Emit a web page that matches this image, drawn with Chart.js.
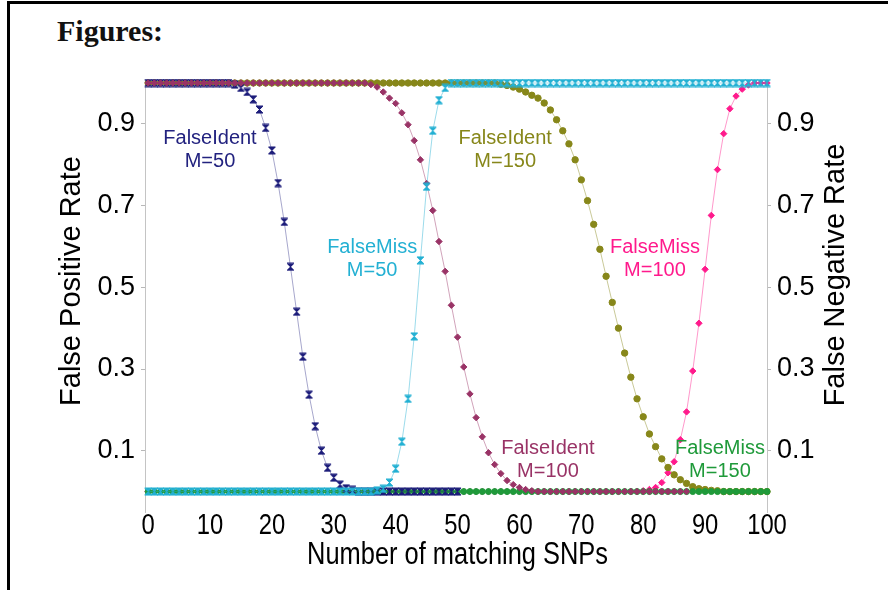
<!DOCTYPE html>
<html>
<head>
<meta charset="utf-8">
<script src="https://cdn.jsdelivr.net/npm/chart.js@4.4.1/dist/chart.umd.min.js"></script>
<style>
  body { margin: 0; background: #fff; }
  #wrap { position: relative; width: 888px; height: 590px; background: #fff; overflow: hidden; }
  #frame { position: absolute; left: 7px; top: 1px; width: 900px; height: 600px; border-left: 3px solid #000; border-top: 3px solid #000; }
  #heading { position: absolute; left: 57px; top: 14px; font: bold 30px "Liberation Serif", "Times New Roman", serif; color: #111; }
  canvas { position: absolute; left: 0; top: 0; }
</style>
</head>
<body>
<div id="wrap">
  <div id="frame"></div>
  <div id="heading">Figures:</div>
  <canvas id="chart" width="888" height="590"></canvas>
</div>
<script>
// x values: number of matching SNPs
const snps = [
  0, 1, 2, 3, 4, 5, 6, 7, 8, 9,
  10, 11, 12, 13, 14, 15, 16, 17, 18, 19,
  20, 21, 22, 23, 24, 25, 26, 27, 28, 29,
  30, 31, 32, 33, 34, 35, 36, 37, 38, 39,
  40, 41, 42, 43, 44, 45, 46, 47, 48, 49,
  50, 51, 52, 53, 54, 55, 56, 57, 58, 59,
  60, 61, 62, 63, 64, 65, 66, 67, 68, 69,
  70, 71, 72, 73, 74, 75, 76, 77, 78, 79,
  80, 81, 82, 83, 84, 85, 86, 87, 88, 89,
  90, 91, 92, 93, 94, 95, 96, 97, 98, 99,
  100
];

// FalseIdent M=50
const falseIdent50 = [
  1, 1, 1, 1, 1, 1, 1, 1, 1, 1,
  1, 1, 1, 1, 0.996, 0.988, 0.978, 0.96, 0.935, 0.89,
  0.835, 0.755, 0.66, 0.55, 0.44, 0.33, 0.237, 0.16, 0.10, 0.058,
  0.034, 0.017, 0.008, 0.004, 0, 0, 0, 0, 0, 0,
  0, 0, 0, 0, 0, 0, 0, 0, 0, 0,
  0, null, null, null, null, null, null, null, null, null,
  null, null, null, null, null, null, null, null, null, null,
  null, null, null, null, null, null, null, null, null, null,
  null, null, null, null, null, null, null, null, null, null,
  null, null, null, null, null, null, null, null, null, null,
  null
];

// FalseMiss M=50
const falseMiss50 = [
  0, 0, 0, 0, 0, 0, 0, 0, 0, 0,
  0, 0, 0, 0, 0, 0, 0, 0, 0, 0,
  0, 0, 0, 0, 0, 0, 0, 0, 0, 0,
  0, 0, 0, 0, 0, 0, 0, 0.003, 0.007, 0.022,
  0.056, 0.122, 0.227, 0.38, 0.566, 0.746, 0.883, 0.958, 0.988, 1,
  1, 1, 1, 1, 1, 1, 1, 1, 1, 1,
  1, 1, 1, 1, 1, 1, 1, 1, 1, 1,
  1, 1, 1, 1, 1, 1, 1, 1, 1, 1,
  1, 1, 1, 1, 1, 1, 1, 1, 1, 1,
  1, 1, 1, 1, 1, 1, 1, 1, 1, 1,
  1
];

// FalseIdent M=100
const falseIdent100 = [
  1, 1, 1, 1, 1, 1, 1, 1, 1, 1,
  1, 1, 1, 1, 1, 1, 1, 1, 1, 1,
  1, 1, 1, 1, 1, 1, 1, 1, 1, 1,
  1, 1, 1, 1, 1, 1, 0.996, 0.99, 0.978, 0.963,
  0.95, 0.927, 0.898, 0.859, 0.812, 0.754, 0.688, 0.612, 0.539, 0.456,
  0.378, 0.305, 0.239, 0.181, 0.134, 0.095, 0.066, 0.044, 0.027, 0.017,
  0.01, 0.005, 0.002, 0, 0, 0, 0, 0, 0, 0,
  0, 0, 0, 0, 0, 0, 0, 0, 0, 0,
  0, 0, 0, 0, 0, 0, 0, 0, null, null,
  null, null, null, null, null, null, null, null, null, null,
  null
];

// FalseMiss M=100
const falseMiss100 = [
  0, 0, 0, 0, 0, 0, 0, 0, 0, 0,
  0, 0, 0, 0, 0, 0, 0, 0, 0, 0,
  0, 0, 0, 0, 0, 0, 0, 0, 0, 0,
  0, 0, 0, 0, 0, 0, 0, 0, 0, 0,
  0, 0, 0, 0, 0, 0, 0, 0, 0, 0,
  0, 0, 0, 0, 0, 0, 0, 0, 0, 0,
  0, 0, 0, 0, 0, 0, 0, 0, 0, 0,
  0, 0, 0, 0, 0, 0, 0, 0, 0, 0,
  0.002, 0.005, 0.01, 0.022, 0.046, 0.073, 0.127, 0.195, 0.295, 0.412,
  0.544, 0.676, 0.788, 0.876, 0.937, 0.968, 0.985, 0.995, 1, 1,
  1
];

// FalseIdent M=150
const falseIdent150 = [
  1, 1, 1, 1, 1, 1, 1, 1, 1, 1,
  1, 1, 1, 1, 1, 1, 1, 1, 1, 1,
  1, 1, 1, 1, 1, 1, 1, 1, 1, 1,
  1, 1, 1, 1, 1, 1, 1, 1, 1, 1,
  1, 1, 1, 1, 1, 1, 1, 1, 1, 1,
  1, 1, 1, 1, 1, 1, 1, 0.997, 0.994, 0.99,
  0.985, 0.978, 0.97, 0.963, 0.951, 0.934, 0.91, 0.883, 0.851, 0.812,
  0.763, 0.712, 0.654, 0.593, 0.527, 0.463, 0.4, 0.339, 0.28, 0.227,
  0.183, 0.141, 0.11, 0.08, 0.059, 0.041, 0.029, 0.02, 0.012, 0.007,
  0.005, 0.003, 0.002, 0, 0, 0, 0, 0, 0, 0,
  0
];

// FalseMiss M=150
const falseMiss150 = [
  0, 0, 0, 0, 0, 0, 0, 0, 0, 0,
  0, 0, 0, 0, 0, 0, 0, 0, 0, 0,
  0, 0, 0, 0, 0, 0, 0, 0, 0, 0,
  0, 0, 0, 0, 0, 0, 0, 0, 0, 0,
  0, 0, 0, 0, 0, 0, 0, 0, 0, 0,
  0, 0, 0, 0, 0, 0, 0, 0, 0, 0,
  0, 0, 0, 0, 0, 0, 0, 0, 0, 0,
  0, 0, 0, 0, 0, 0, 0, 0, 0, 0,
  0, 0, 0, 0, 0, 0, 0, 0, 0, 0,
  0, 0, 0, 0, 0, 0, 0, 0, 0, 0,
  0
];

const xTickValues = [0, 10, 20, 30, 40, 50, 60, 70, 80, 90, 100];
const yTickValues = [0.1, 0.3, 0.5, 0.7, 0.9];

// in-plot labels (anchored in data units)
const noteLines = [
  ['FalseIdent', 'M=50'], ['FalseMiss', 'M=50'], ['FalseIdent', 'M=150'],
  ['FalseMiss', 'M=100'], ['FalseIdent', 'M=100'], ['FalseMiss', 'M=150']
];
const noteX = [10, 36.2, 57.7, 81.9, 64.6, 92.4];
const noteY = [0.836, 0.569, 0.836, 0.570, 0.077, 0.077];
const noteColors = ['#22227f', '#23b0d3', '#87871a', '#ff1a8c', '#993366', '#1f9a3a'];

const SANS = '"Liberation Sans", Arial, sans-serif';

function hourglass(color) {
  const c = document.createElement('canvas');
  c.width = 9; c.height = 9;
  const g = c.getContext('2d');
  g.fillStyle = color; g.strokeStyle = color; g.lineWidth = 1;
  g.beginPath();
  g.moveTo(1, 1); g.lineTo(8, 1); g.lineTo(1, 8); g.lineTo(8, 8); g.closePath();
  g.fill(); g.stroke();
  return c;
}

function series(values) {
  return values.map((v, i) => ({ x: snps[i], y: v }));
}

// condensed text (no narrow font installed)
function narrowText(ctx, text, x, y, squeeze) {
  ctx.save();
  ctx.translate(x, y);
  ctx.scale(squeeze, 1);
  ctx.fillText(text, 0, 0);
  ctx.restore();
}

const notesPlugin = {
  id: 'notes',
  afterDatasetsDraw(chart) {
    const { ctx, scales: { x, y } } = chart;
    ctx.save();
    ctx.font = '20px ' + SANS;
    ctx.textAlign = 'center';
    ctx.textBaseline = 'middle';
    noteLines.forEach((lines, i) => {
      const px = x.getPixelForValue(noteX[i]);
      const py = y.getPixelForValue(noteY[i]);
      ctx.fillStyle = noteColors[i];
      ctx.fillText(lines[0], px, py - 11.5);
      ctx.fillText(lines[1], px, py + 11.5);
    });

    // x tick labels and title
    ctx.fillStyle = '#000';
    ctx.textBaseline = 'alphabetic';
    ctx.font = '29px ' + SANS;
    xTickValues.forEach(v => narrowText(ctx, String(v), x.getPixelForValue(v), 534, 0.82));
    ctx.font = '31px ' + SANS;
    narrowText(ctx, 'Number of matching SNPs', (x.getPixelForValue(0) + x.getPixelForValue(100)) / 2, 564, 0.82);

    // axis titles, both read bottom to top
    ctx.textBaseline = 'middle';
    ctx.font = '29px ' + SANS;
    ctx.translate(72, 281);
    ctx.rotate(-Math.PI / 2);
    ctx.fillText('False Positive Rate', 0, 0);
    ctx.setTransform(1, 0, 0, 1, 0, 0);
    ctx.translate(836, 275);
    ctx.rotate(-Math.PI / 2);
    ctx.fillText('False Negative Rate', 0, 0);
    ctx.restore();
  }
};

const yAxisCommon = {
  min: -0.05,
  max: 1,
  afterBuildTicks: s => { s.ticks = yTickValues.map(v => ({ value: v })); },
  ticks: { color: '#000', font: { family: SANS, size: 27 }, padding: 6, callback: v => String(v) },
  grid: { drawOnChartArea: false, drawTicks: true, tickLength: 4, color: '#b8b8b8' },
  border: { display: true, color: '#c4c4c4', width: 1 }
};

new Chart(document.getElementById('chart'), {
  type: 'line',
  data: {
    datasets: [
      { label: 'FalseMiss M=50', data: series(falseMiss50), order: 0,
        borderColor: 'rgba(35,176,211,0.45)', pointStyle: hourglass('#23b0d3') },
      { label: 'FalseIdent M=100', data: series(falseIdent100), order: 1,
        borderColor: 'rgba(153,51,102,0.45)', pointStyle: 'rectRot', pointRadius: 3.2,
        pointBackgroundColor: '#993366', pointBorderColor: '#993366' },
      { label: 'FalseIdent M=50', data: series(falseIdent50), order: 2,
        borderColor: 'rgba(34,34,127,0.4)', pointStyle: hourglass('#1c1c7a') },
      { label: 'FalseMiss M=150', data: series(falseMiss150), order: 3,
        borderColor: 'rgba(31,154,58,0.45)', pointStyle: 'circle', pointRadius: 3,
        pointBackgroundColor: '#1f9a3a', pointBorderColor: '#1f9a3a' },
      { label: 'FalseIdent M=150', data: series(falseIdent150), order: 4,
        borderColor: 'rgba(135,135,26,0.45)', pointStyle: 'circle', pointRadius: 3.2,
        pointBackgroundColor: '#87871a', pointBorderColor: '#87871a' },
      { label: 'FalseMiss M=100', data: series(falseMiss100), order: 5,
        borderColor: 'rgba(255,26,140,0.45)', pointStyle: 'rectRot', pointRadius: 3.2,
        pointBackgroundColor: '#ff1a8c', pointBorderColor: '#ff1a8c' }
    ].map(d => Object.assign({ borderWidth: 1, tension: 0, clip: false, spanGaps: false, pointBorderWidth: 1 }, d))
  },
  options: {
    responsive: false,
    animation: false,
    devicePixelRatio: 1,
    layout: { padding: { left: 0, right: 0, top: 83, bottom: 0 } },
    plugins: { legend: { display: false }, tooltip: { enabled: false } },
    scales: {
      x: {
        type: 'linear',
        min: -0.5,
        max: 100,
        afterFit: s => { s.height = 78; },
        afterBuildTicks: s => { s.ticks = xTickValues.map(v => ({ value: v })); },
        ticks: { display: false },
        grid: { display: false, drawTicks: false },
        border: { display: false },
        title: { display: false }
      },
      y: Object.assign({ position: 'left', afterFit: s => { s.width = 145; } }, yAxisCommon),
      y2: Object.assign({ position: 'right', afterFit: s => { s.width = 121; } }, yAxisCommon)
    }
  },
  plugins: [notesPlugin]
});
</script>
</body>
</html>
